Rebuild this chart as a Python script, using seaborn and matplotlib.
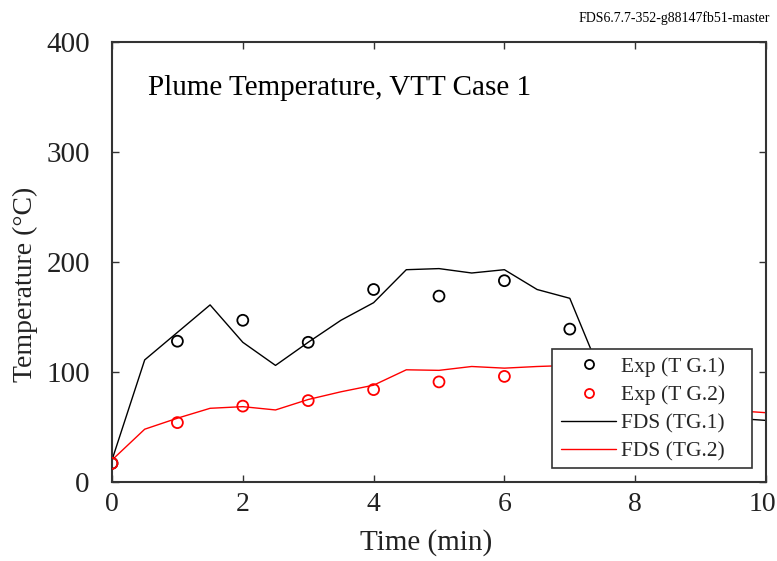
import matplotlib
matplotlib.use("Agg")
import matplotlib.pyplot as plt
import seaborn as sns
import pandas as pd
from matplotlib.lines import Line2D
from matplotlib.patches import Rectangle
from matplotlib.transforms import ScaledTranslation

# ---- data ----
exp_time = [0, 1, 2, 3, 4, 5, 6, 7]
exp_tg1 = [17, 128, 147, 127, 175, 169, 183, 139]
exp_tg2 = [17, 54, 69, 74, 84, 91, 96, 100]

fds_time = [0, 0.5, 1, 1.5, 2, 2.5, 3, 3.5, 4, 4.5, 5, 5.5, 6, 6.5, 7,
            7.5, 8, 8.5, 9, 9.5, 10]
fds_tg1 = [20, 111, 136, 161, 127, 106, 127, 147, 163, 193, 194, 190, 193, 175, 167,
           95, 70, 63, 60, 58, 56]
fds_tg2 = [20, 48, 58, 67, 68.5, 65.5, 75, 82, 88, 102, 101.5, 105, 103.5, 105, 106,
           100, 82, 72, 68, 65, 63]

x_ticks = [0, 2, 4, 6, 8, 10]
y_ticks = [0, 100, 200, 300, 400]

title_text = "Plume Temperature, VTT Case 1"
version_text = "FDS6.7.7-352-g88147fb51-master"
legend_labels = ["Exp (T G.1)", "Exp (T G.2)", "FDS (TG.1)", "FDS (TG.2)"]

sns.set_style("ticks")
plt.rcParams['font.family'] = ['Liberation Serif', 'DejaVu Serif']

fig = plt.figure(figsize=(7.77, 5.61), dpi=100)
ax = fig.add_axes([112/777, 1-482/561, (766-112)/777, (482-42)/561])

exp_df = pd.DataFrame({"t": exp_time, "g1": exp_tg1, "g2": exp_tg2})
fds_df = pd.DataFrame({"t": fds_time, "g1": fds_tg1, "g2": fds_tg2})

sns.lineplot(data=fds_df, x="t", y="g1", ax=ax, color="black", linewidth=1.0, zorder=2)
sns.lineplot(data=fds_df, x="t", y="g2", ax=ax, color="#ff0000", linewidth=1.0, zorder=2)
sns.scatterplot(data=exp_df, x="t", y="g1", ax=ax, marker="o", s=62,
                facecolor="none", edgecolor="black", linewidth=1.3, zorder=3)
sns.scatterplot(data=exp_df, x="t", y="g2", ax=ax, marker="o", s=62,
                facecolor="none", edgecolor="#ff0000", linewidth=1.3, zorder=3)

ax.set_xlim(0, 10)
ax.set_ylim(0, 400)
ax.set_xticks(x_ticks)
ax.set_yticks(y_ticks)
ax.set_xticklabels([str(v) for v in x_ticks])
ax.set_yticklabels([str(v) for v in y_ticks])
ax.tick_params(direction="in", top=True, right=True, length=5, width=1,
               colors="#333333", labelcolor="#222222")
ax.tick_params(axis="x", pad=7, labelsize=20)
ax.tick_params(axis="y", pad=16, labelsize=21)
for sp in ax.spines.values():
    sp.set_visible(True)
    sp.set_linewidth(1.5)
    sp.set_color("#333333")

# nudge the last x tick label inward like the reference
last = ax.get_xticklabels()[-1]
last.set_transform(last.get_transform() + ScaledTranslation(-4/100, 0, fig.dpi_scale_trans))

ax.set_xlabel("Time (min)", fontsize=21, color="#222222")
ax.set_ylabel("Temperature (°C)", fontsize=20, color="#222222")
ax.xaxis.set_label_coords(0.48, -0.108)
ax.yaxis.set_label_coords(-0.113, 0.45)

ax.text(0.055, 0.88, title_text, transform=ax.transAxes, fontsize=21,
        ha="left", va="baseline", color="black")
fig.text(0.991, 0.968, version_text, fontsize=10, ha="right", va="center", color="black")

# legend frame (square box with extra right padding, as in the reference)
ax.add_patch(Rectangle((0.6728, 0.0318), 0.3058, 0.2705, transform=ax.transAxes,
                       facecolor="white", edgecolor="#333333", linewidth=1.2, zorder=4))

handles = [
    Line2D([], [], linestyle="none", marker="o", markersize=6.5, markerfacecolor="none",
           markeredgecolor="black", markeredgewidth=1.3),
    Line2D([], [], linestyle="none", marker="o", markersize=6.5, markerfacecolor="none",
           markeredgecolor="#ff0000", markeredgewidth=1.3),
    Line2D([], [], color="black", linewidth=1.0),
    Line2D([], [], color="#ff0000", linewidth=1.0),
]
leg = ax.legend(handles, legend_labels, loc="center left", bbox_to_anchor=(0.6865, 0.1655),
                fontsize=15.5, frameon=False, handlelength=2.56, handletextpad=0.23,
                labelspacing=0.38, borderpad=0, borderaxespad=0)
leg.set_zorder(5)

fig.savefig("out.png", dpi=100)
